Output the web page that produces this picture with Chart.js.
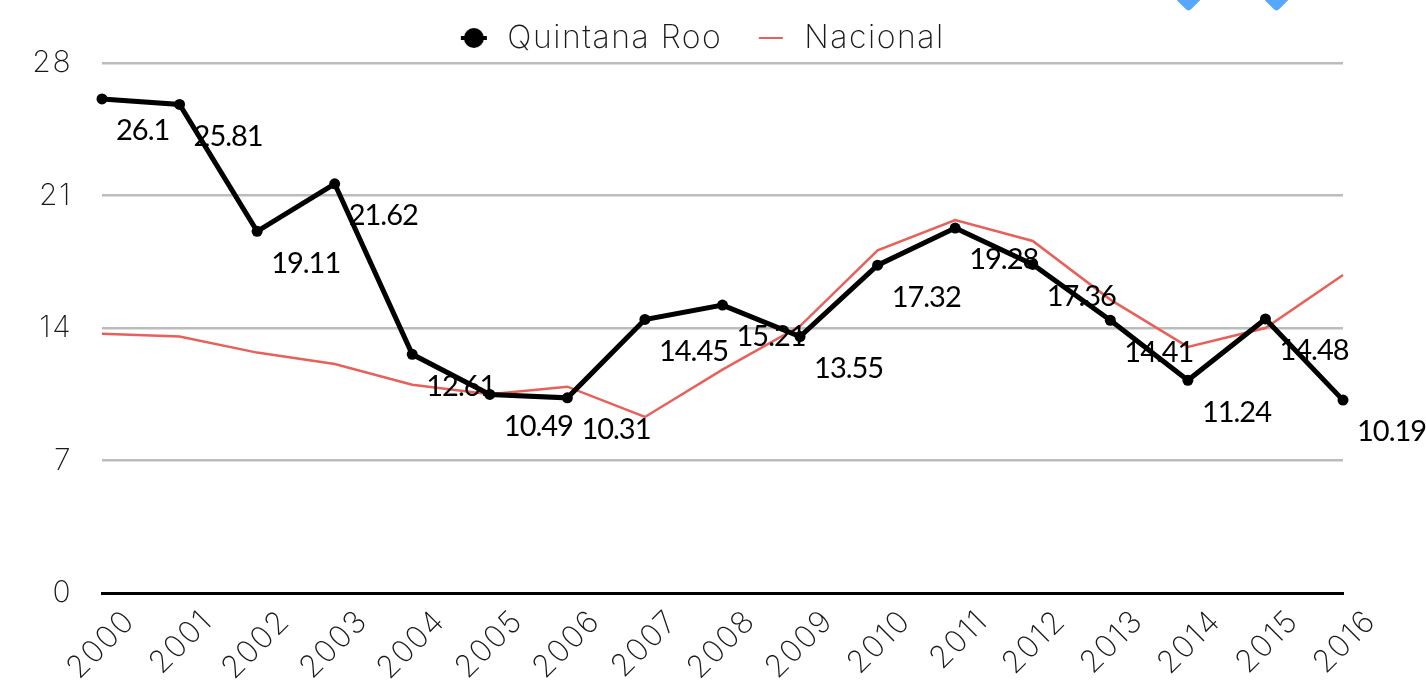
<!DOCTYPE html>
<html><head><meta charset="utf-8">
<style>
html,body{margin:0;padding:0;background:#fff;overflow:hidden}
#wrap{position:relative;width:1426px;height:683px;overflow:hidden}
canvas{display:block}
.mark{position:absolute;top:-11px;width:19px;height:19px;background:#56a8ff;transform:rotate(45deg);border-radius:4px}
</style>
<script src="https://cdn.jsdelivr.net/npm/chart.js@4"></script>
</head><body>
<div id="wrap">
<canvas id="c" width="1426" height="683"></canvas>
<div class="mark" style="left:1179px"></div>
<div class="mark" style="left:1267px"></div>
</div>
<script>
const years = ['2000','2001','2002','2003','2004','2005','2006','2007','2008','2009','2010','2011','2012','2013','2014','2015','2016'];
const quintanaRoo = [26.1,25.81,19.11,21.62,12.61,10.49,10.31,14.45,15.21,13.55,17.32,19.28,17.36,14.41,11.24,14.48,10.19];
const nacional = [13.7,13.55,12.7,12.1,11.0,10.5,10.9,9.3,11.8,14.1,18.1,19.7,18.6,15.5,13.0,14.0,16.8];
const yTicks = [0,7,14,21,28];

const BLACK='#000000', RED='#e8605a', GRID='#bcbcbc', TXT='#1a1a1a';

function icon(draw){const k=document.createElement('canvas');k.width=28;k.height=24;draw(k.getContext('2d'));return k;}
const iconQR=icon(g=>{g.fillStyle=BLACK;g.fillRect(1,10,26,4);g.beginPath();g.arc(14,12,10,0,Math.PI*2);g.fill();});
const iconNat=icon(g=>{g.fillStyle=RED;g.fillRect(2,11,24,2);});

const dataLabels={id:'dataLabels',afterDatasetsDraw(chart){
  const g=chart.ctx,meta=chart.getDatasetMeta(0);
  g.save();g.font='400 29px Lato';g.letterSpacing='-1px';g.fillStyle=BLACK;g.textAlign='left';g.textBaseline='middle';
  meta.data.forEach((p,i)=>g.fillText(String(quintanaRoo[i]),p.x+14,p.y+32));
  g.restore();
}};
const textSpacing={id:'textSpacing',
  beforeUpdate(chart){chart.ctx.letterSpacing='1.5px';},
  beforeLayout(chart){chart.ctx.letterSpacing='1.5px';},
  beforeDraw(chart){chart.ctx.letterSpacing='1.5px';}
};
const legendShift={id:'legendShift',afterLayout(chart){
  const l=chart.legend;l.left+=29;l.right+=29;l.top+=1;l.bottom+=1;
}};

new Chart(document.getElementById('c'),{
  type:'line',
  data:{labels:years,datasets:[
    {label:'Quintana Roo',data:quintanaRoo,borderColor:BLACK,backgroundColor:BLACK,borderWidth:5,pointRadius:5.5,pointBorderWidth:0,pointHoverRadius:5.5,tension:0,clip:false,order:0},
    {label:'Nacional',data:nacional,borderColor:RED,backgroundColor:RED,borderWidth:2.5,pointRadius:0,tension:0,clip:false,order:1}
  ]},
  plugins:[textSpacing,dataLabels,legendShift],
  options:{
    responsive:false,animation:false,
    layout:{padding:{top:-10,right:83,left:0,bottom:0}},
    plugins:{
      tooltip:{enabled:false},
      legend:{display:true,position:'top',labels:{
        color:TXT,font:{family:'Inter',size:32,weight:200},padding:31,usePointStyle:true,pointStyleWidth:35,
        generateLabels(chart){return chart.data.datasets.map((d,i)=>({text:d.label,pointStyle:i===0?iconQR:iconNat,fillStyle:d.borderColor,strokeStyle:d.borderColor,lineWidth:0,datasetIndex:i,fontColor:TXT}));}
      }}
    },
    scales:{
      x:{
        grid:{display:false,drawTicks:false},
        border:{display:true,color:BLACK,width:3},
        ticks:{color:TXT,font:{family:'Inter',size:31,weight:200},minRotation:45,maxRotation:45,autoSkip:false,labelOffset:28,padding:10},
        afterFit(s){s.height=90;s.paddingLeft=0;s.paddingRight=0;}
      },
      y:{
        min:0,max:28,
        afterBuildTicks(s){s.ticks=yTicks.map(v=>({value:v}));},
        grid:{color:c=>c.tick.value===0?'rgba(0,0,0,0)':GRID,lineWidth:2.5,drawTicks:false},
        border:{display:false},
        ticks:{color:TXT,font:{family:'Inter',size:30,weight:200},padding:30},
        afterFit(s){s.width=102;s.paddingTop=0;s.paddingBottom=0;}
      }
    }
  }
});
</script>
</body></html>
